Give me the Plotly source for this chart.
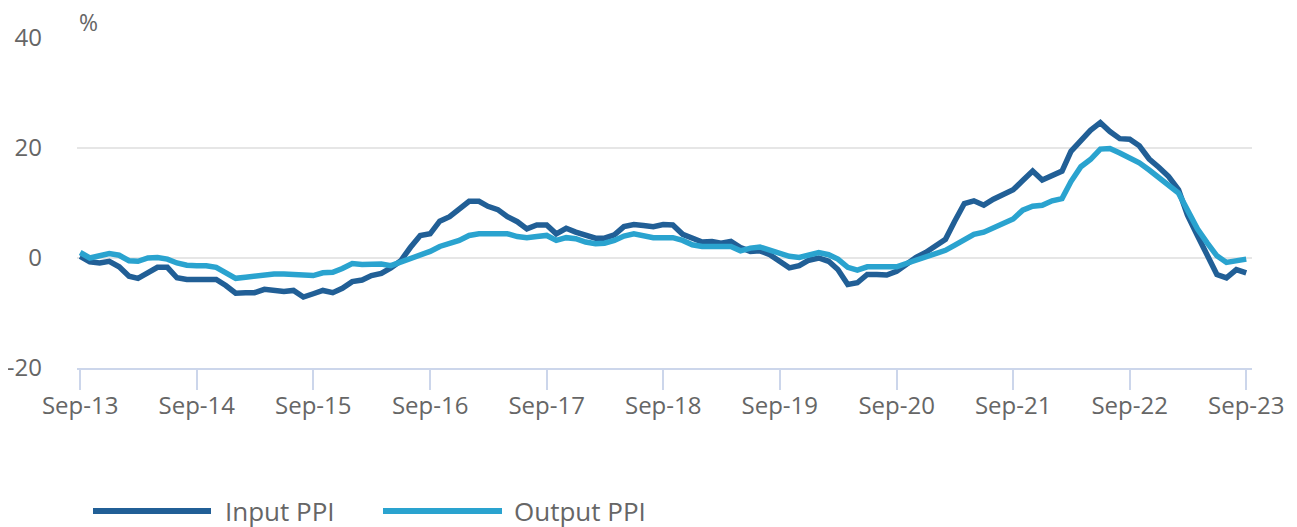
import pandas as pd
import plotly.graph_objects as go

# monthly, Sep-13 .. Sep-23, % y/y
months = pd.date_range("2013-09-01", periods=121, freq="MS")

input_ppi = [
    0.3, -0.7, -0.9, -0.6, -1.6, -3.3, -3.7, -2.7, -1.7, -1.7,
    -3.6, -3.9, -3.9, -3.9, -3.9, -5.0, -6.4, -6.3, -6.3, -5.7,
    -5.9, -6.1, -5.9, -7.1, -6.5, -5.9, -6.3, -5.5, -4.3, -4.0,
    -3.2, -2.8, -1.8, -0.5, 1.9, 4.1, 4.4, 6.7, 7.5, 8.9,
    10.3, 10.3, 9.4, 8.8, 7.5, 6.6, 5.3, 6.0, 6.0, 4.4,
    5.4, 4.7, 4.1, 3.6, 3.6, 4.2, 5.7, 6.1, 5.9, 5.7,
    6.1, 6.0, 4.3, 3.5, 2.9, 3.0, 2.7, 3.0, 1.9, 1.2,
    1.3, 0.6, -0.6, -1.8, -1.4, -0.4, 0.0, -0.6, -2.1, -4.8,
    -4.5, -3.0, -3.0, -3.1, -2.4, -1.1, 0.1, 1.0, 2.2, 3.4,
    6.6, 9.9, 10.4, 9.6, 10.7, 11.6, 12.4, 14.1, 15.8, 14.2,
    14.9, 15.8, 19.4, 21.5, 23.2, 24.6, 23.0, 21.7, 21.6, 20.4,
    18.0, 16.5, 14.8, 12.4, 7.8, 4.1, 0.5, -3.0, -3.6, -2.1,
    -2.7,
]

output_ppi = [
    1.0, 0.0, 0.4, 0.8, 0.5, -0.5, -0.6, 0.0, 0.1, -0.2,
    -0.9, -1.3, -1.4, -1.4, -1.7, -2.8, -3.7, -3.5, -3.3, -3.1,
    -2.9, -2.9, -3.0, -3.3, -3.2, -2.7, -2.6, -1.9, -1.0, -1.2,
    -1.2, -1.1, -1.4, -0.8, -0.2, 0.6, 1.2, 2.1, 2.6, 3.2,
    4.1, 4.4, 4.4, 4.4, 4.4, 3.9, 3.7, 3.9, 4.1, 3.2,
    3.7, 3.5, 2.9, 2.6, 2.7, 3.2, 4.0, 4.4, 4.0, 3.7,
    3.7, 3.7, 3.2, 2.4, 2.1, 2.1, 2.1, 2.1, 1.3, 1.8,
    2.0, 1.4, 0.9, 0.3, 0.1, 0.6, 1.0, 0.6, -0.2, -1.7,
    -2.2, -1.6, -1.6, -1.6, -1.6, -1.0, -0.4, 0.0, 0.6, 1.4,
    2.3, 3.4, 4.3, 4.7, 5.4, 6.2, 7.1, 8.7, 9.4, 9.6,
    10.4, 10.8, 13.9, 16.6, 17.9, 19.8, 19.9, 19.1, 18.2, 17.3,
    16.0, 14.6, 13.2, 11.8, 8.7, 5.3, 2.8, 0.4, -0.8, -0.6,
    -0.2,
]

y_ticks = [-20, 0, 20, 40]
y_ticktext = ["-20", "0", "20", "40"]

series_names = ["Input PPI", "Output PPI"]
colors = ["#215f96", "#2aa3cf"]

FONT = "Open Sans"
GREY = "#666666"

# page body has an 8px margin, so the figure is drawn 8px smaller
# (left/top offset); pixel positions below are window coordinates
OFF = 8
W, H = 1297 - OFF, 527 - OFF
L, R, T, B = 77 - OFF, 45, 38 - OFF, 159
pw, ph = W - L - R, H - T - B


def px(x):
    return (x - OFF - L) / pw


def py(y):
    return (H - B - (y - OFF)) / ph


fig = go.Figure()
for name, vals, col in zip(series_names, [input_ppi, output_ppi], colors):
    fig.add_trace(go.Scatter(
        x=months, y=vals, name=name, mode="lines",
        line=dict(color=col, width=5.5),
        showlegend=False,
    ))

# legend drawn by hand, plotly's legend lines are too short
legend_items = [(93, 211, 223), (383, 502, 512)]
for (x0, x1, tx), name, col in zip(legend_items, series_names, colors):
    fig.add_shape(type="line", xref="paper", yref="paper",
                  x0=px(x0), x1=px(x1), y0=py(511), y1=py(511),
                  line=dict(color=col, width=6))
    fig.add_annotation(text=name, xref="paper", yref="paper",
                       x=px(tx), y=py(511), xanchor="left", yanchor="middle",
                       showarrow=False, font=dict(family=FONT, size=26, color=GREY))

fig.add_annotation(text="%", xref="paper", yref="paper",
                   x=px(77), y=py(22), xanchor="left", yanchor="middle",
                   showarrow=False, font=dict(family=FONT, size=23, color=GREY))

fig.update_layout(
    width=W, height=H,
    margin=dict(l=L, r=R, t=T, b=B),
    paper_bgcolor="white", plot_bgcolor="white",
    font=dict(family=FONT, size=24, color=GREY),
    xaxis=dict(
        type="date",
        range=["2013-08-22", "2023-09-19"],
        tick0="2013-09-01", dtick="M12", tickformat="%b-%y",
        showgrid=False, zeroline=False,
        showline=True, linecolor="#ccd6eb", linewidth=1.5,
        ticks="outside", ticklen=20, tickcolor="#ccd6eb", tickwidth=1.5,
        ticklabelstandoff=-5, automargin=False,
    ),
    yaxis=dict(
        range=[-20, 40],
        tickvals=y_ticks, ticktext=y_ticktext,
        showgrid=True, gridcolor="#e6e6e6", gridwidth=1.5,
        zeroline=False, showline=False,
        ticklabelstandoff=34, automargin=False,
    ),
)

fig.write_html("out.html")
